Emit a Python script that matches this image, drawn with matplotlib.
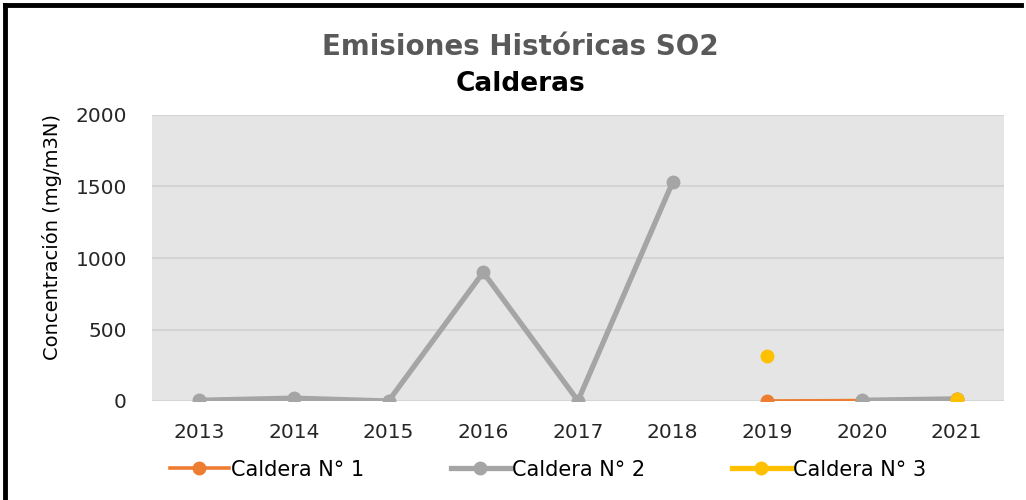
import numpy as np
import matplotlib.pyplot as plt
from matplotlib.lines import Line2D

# datos
anios = ['2013', '2014', '2015', '2016', '2017', '2018', '2019', '2020', '2021']
caldera_1 = [np.nan, np.nan, np.nan, np.nan, np.nan, np.nan, 0, 3, 15]
caldera_2 = [5, 20, 0, 900, 2, 1530, np.nan, 5, 15]
caldera_3 = [np.nan, np.nan, np.nan, np.nan, np.nan, np.nan, 315, np.nan, 12]
y_ticks = [0, 500, 1000, 1500, 2000]

plt.rcParams['font.family'] = 'DejaVu Sans'

fig = plt.figure(figsize=(10.26, 5.0), dpi=100)
ax = fig.add_axes([0.148, 0.198, 0.8306, 0.572])
ax.set_facecolor('#e5e5e5')

x = np.arange(len(anios))
ax.plot(x, caldera_1, color='#ED7D31', lw=2.6, marker='o', ms=9, label='Caldera N° 1', zorder=3)
ax.plot(x, caldera_2, color='#A5A5A5', lw=3.8, marker='o', ms=9, label='Caldera N° 2', zorder=4)
ax.plot(x, caldera_3, color='#FFC000', lw=3.8, marker='o', ms=9, label='Caldera N° 3', zorder=5)

ax.set_xlim(-0.5, len(anios) - 0.5)
ax.set_ylim(0, 2000)
ax.set_xticks(x)
ax.set_xticklabels(anios, fontsize=14.5, color='#262626')
ax.set_yticks(y_ticks)
ax.set_yticklabels([str(v) for v in y_ticks], fontsize=14.5, color='#262626')
ax.tick_params(axis='x', length=0, pad=15.5)
ax.tick_params(axis='y', length=0, pad=18)
ax.grid(axis='y', color='#d4d4d4', lw=1.5)
ax.set_axisbelow(True)
for s in ax.spines.values():
    s.set_visible(False)

ax.set_ylabel('Concentración (mg/m3N)', fontsize=14, color='#000000')
ax.yaxis.set_label_coords(-0.106, 0.575)

fig.text(0.507, 0.906, 'Emisiones Históricas SO2', ha='center', va='center',
         fontsize=20, fontweight='bold', color='#595959')
fig.text(0.507, 0.832, 'Calderas', ha='center', va='center',
         fontsize=19, fontweight='bold', color='#000000')

leg = ax.legend(loc='center left', bbox_to_anchor=(0.0215, -0.24), ncol=3, frameon=False,
                prop={'size': 15}, handlelength=2.8, handletextpad=0.1,
                columnspacing=4.2, borderaxespad=0, borderpad=0)

# marco negro (arriba e izquierda)
fig.add_artist(Line2D([0.005, 0.995], [0.99, 0.99], color='black', lw=3.5, transform=fig.transFigure))
fig.add_artist(Line2D([0.005, 0.005], [0.0, 0.99], color='black', lw=3.5, transform=fig.transFigure))

fig.savefig('out.png', dpi=100)
